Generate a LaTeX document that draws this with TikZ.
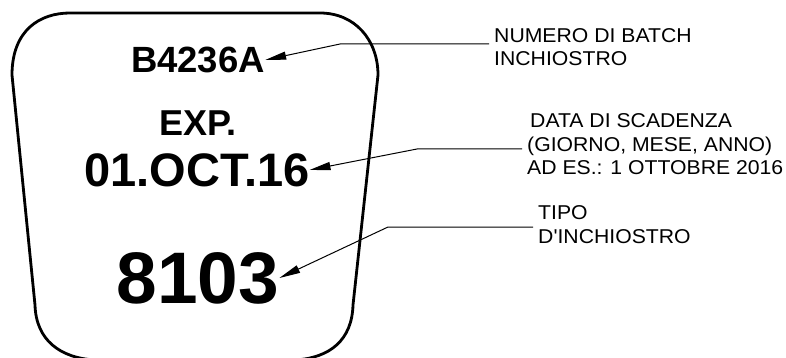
\documentclass[tikz,border=0pt]{standalone}
\usepackage{fontspec}
\setmainfont{Liberation Sans}
\newfontfamily\lblfont[FakeStretch=1.06]{Liberation Sans}
\usetikzlibrary{arrows.meta}
\begin{document}
\begin{tikzpicture}[x=1pt,y=-1pt,
	big/.style={inner sep=0,font=\bfseries},
	lbl/.style={anchor=base west,inner xsep=5pt,inner ysep=0,align=left,font=\lblfont\fontsize{20}{23.5}\selectfont},
	conn/.style={line width=1pt,-{Triangle[length=21pt,width=8pt]}}]
	\useasboundingbox(0,0)rectangle(786,358);
	\draw[line width=2.8pt](12,75)..controls(12,30)and(40,13)..(70,13)--(320,13)
		..controls(355,13)and(378,40)..(378,75)--(353,305)
		..controls(352,340)and(330,358)..(295,360)--(95,360)
		..controls(60,358)and(36,340)..(35,305)--cycle;
	\node[big,font=\bfseries\fontsize{36.5}{40}\selectfont](batch)at(198,60){B4236A};
	\node[big,font=\bfseries\fontsize{36}{40}\selectfont](exp)at(198,123){EXP.};
	\node[big,font=\bfseries\fontsize{47}{50}\selectfont](date)at(197,170){01.OCT.16};
	\node[big,font=\bfseries\fontsize{73}{76}\selectfont](code)at(198,278){8103};
	\node[lbl](numlbl)at(489,66){NUMERO DI BATCH\\INCHIOSTRO};
	\node[lbl](datelbl)at(522,175){\hspace*{3pt}DATA DI SCADENZA\\(GIORNO, MESE, ANNO)\\AD ES.: 1 OTTOBRE 2016};
	\node[lbl](tipolbl)at(533,243){TIPO\\D'INCHIOSTRO};
	\coordinate(k1)at(340,44);
	\coordinate(k2)at(417,149);
	\coordinate(k3)at(388,227);
	\draw[conn](numlbl.west|-k1)--(k1)--(batch.east);
	\draw[conn](datelbl.west|-k2)--(k2)--(date.east);
	\draw[conn](tipolbl.west|-k3)--(k3)--(code.east);
\end{tikzpicture}
\end{document}
